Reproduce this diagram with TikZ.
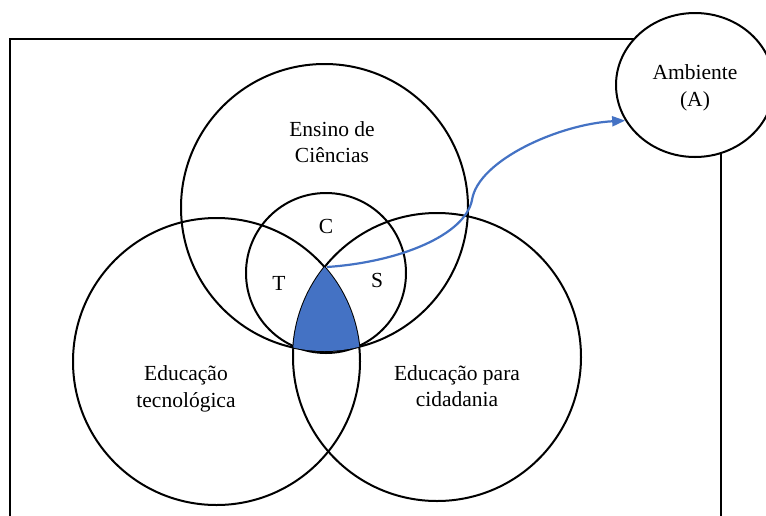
\documentclass[tikz,border=0pt]{standalone}
\usepackage{fontspec}
\setmainfont{Liberation Serif}
\usetikzlibrary{arrows.meta,shapes.geometric}
\definecolor{offblue}{HTML}{4472C4}
\begin{document}
\begin{tikzpicture}[x=1pt,y=-1pt,
  ring/.style={circle,draw=black,line width=2pt,inner sep=0pt,outer sep=0pt},
  lbl/.style={font=\fontsize{21.5}{26.5}\selectfont,align=center,inner sep=0pt},
  link/.style={draw=offblue,line width=2.2pt,-{Triangle[length=13pt,width=10pt]}}]
\useasboundingbox (0,0) rectangle (766,515);
\fill[white] (0,0) rectangle (766,515);
\draw[line width=2.2pt] (10,518) -- (10,39) -- (721,39) -- (721,518);
\node[ring,minimum size=287pt] (ens) at (324.5,207.5) {};
\node[ring,minimum size=287pt] (tec) at (216.5,361.5) {};
\node[ring,minimum size=288pt] (cid) at (437,357) {};
\node[ring,minimum size=160pt] (cts) at (326,273) {};
\begin{scope}
\clip (324.5,207.5) circle (143.5);
\clip (216.5,361.5) circle (143.5);
\fill[offblue] (437,357) circle (144);
\end{scope}
\coordinate (tcs) at (327,267);
\coordinate (bend) at (472,200);
\node[ellipse,draw=black,fill=white,line width=2pt,minimum width=158pt,minimum height=144pt,inner sep=0pt] (amb) at (695,85) {};
\node[lbl] (tamb) at (695,88) {Ambiente\\(A)};
\draw[link] (tcs) .. controls (400,262) and (465,235) .. (bend) .. controls (478,160) and (560,124) .. (amb.207);
\node[lbl] (tens) at (332,142) {Ensino de\\Ciências};
\node[lbl] (tc) at (326,226) {C};
\node[lbl] (tt) at (279,283) {T};
\node[lbl] (ts) at (377,280) {S};
\node[lbl] (ttec) at (186,389) {Educação\\tecnológica};
\node[lbl] (tcid) at (457,386) {Educação para\\cidadania};
\end{tikzpicture}
\end{document}
